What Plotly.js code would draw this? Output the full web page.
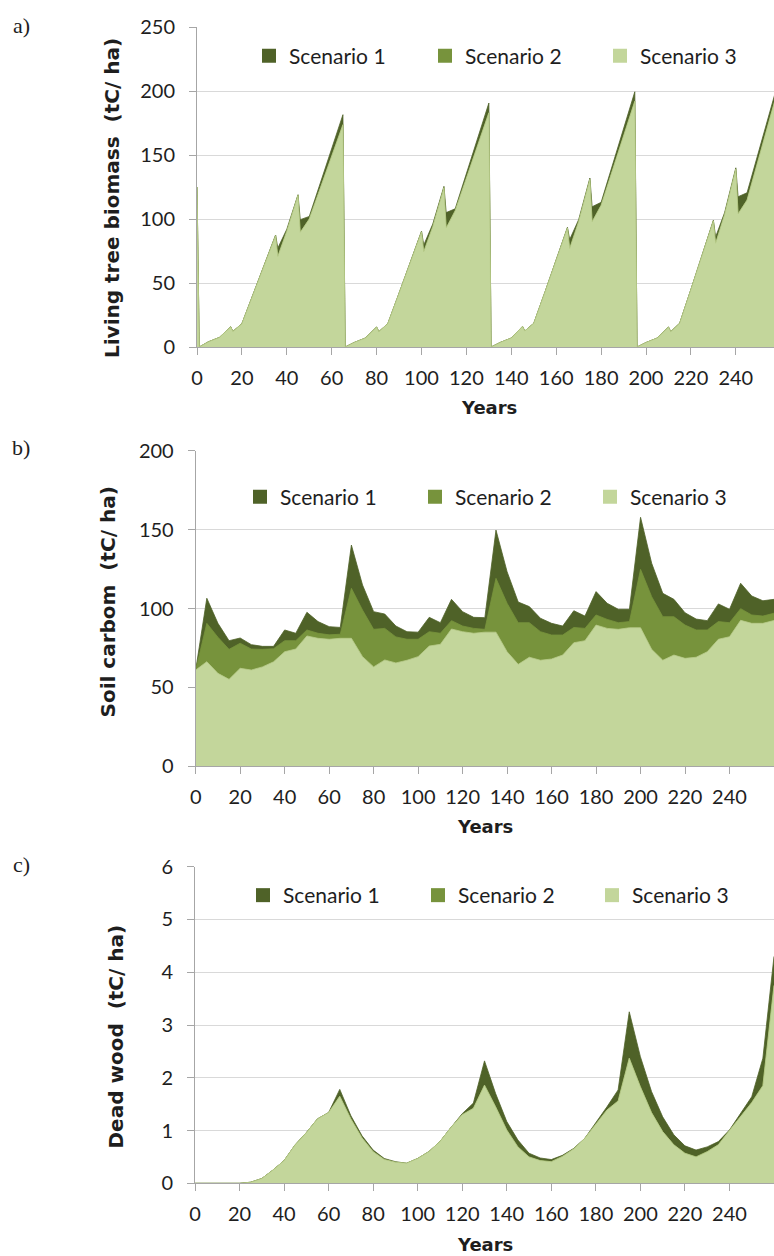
<!DOCTYPE html>
<html>
<head>
<meta charset="utf-8">
<script src="https://cdn.plot.ly/plotly-3.0.1.min.js"></script>
<style>
  html, body { margin: 0; padding: 0; background: #ffffff; }
  #chart { width: 774px; height: 1256px; }
</style>
</head>
<body>
<div id="chart"></div>
<script>
// ---- Series names and colours ----
const scenarioNames = ['Scenario 1', 'Scenario 2', 'Scenario 3'];
const scenarioColors = ['#4F6228', '#77933C', '#C3D69B'];

// ---- a) Living tree biomass (tC/ha) ----
const biomassYears = [0, 1, 5, 10, 15, 16, 20, 25, 30, 35, 36, 40, 45, 46, 50, 55, 60, 65,
  66, 70, 75, 80, 81, 85, 90, 95, 100, 101, 105, 110, 111, 115, 120, 125, 130,
  131, 135, 140, 145, 146, 150, 155, 160, 165, 166, 170, 175, 176, 180, 185, 190, 195,
  196, 200, 205, 210, 211, 215, 220, 225, 230, 231, 235, 240, 241, 245, 250, 255, 260];
const biomassS1 = [125, 0, 4, 7.5, 15.8, 12.2, 18.2, 41, 64, 87.5, 77.3, 92, 119, 99.5, 102, 128.5, 155, 181.5,
  0, 3.5, 7, 15.6, 12, 18.3, 42, 66, 90.5, 79.7, 96, 125.5, 105, 108, 135.5, 163, 190.6,
  0, 3.5, 7, 16.1, 12.5, 18.5, 43, 68, 93.5, 84, 99.5, 132, 109.6, 113, 141.8, 170.6, 199.4,
  0, 3.5, 7, 15.6, 12, 18.6, 45, 72, 99, 86, 105, 140, 117.4, 120.5, 151.8, 183, 214];
const biomassS2 = [125, 0, 4, 7.5, 15.8, 12.2, 18.2, 41, 64, 87, 70.8, 90.5, 118.5, 89.6, 100, 124.6, 149, 173.7,
  0, 3.5, 7, 15.6, 12, 18.3, 42, 66, 90, 74.5, 94, 124.5, 93, 106.5, 132, 157.5, 183,
  0, 3.5, 7, 16.1, 12.5, 18.5, 43, 68, 93, 77, 98, 131, 97.9, 110.7, 138.1, 165.5, 192,
  0, 3.5, 7, 15.6, 12, 18.6, 45, 72, 98.5, 81, 103.5, 139, 104, 114.8, 146.2, 177.6, 209];
const biomassS3 = [125, 0, 4, 7.5, 15.8, 12.2, 18.2, 41, 64, 87, 70.8, 90.5, 118.5, 89.6, 100, 124.6, 149, 173.7,
  0, 3.5, 7, 15.6, 12, 18.3, 42, 66, 90, 74.5, 94, 124.5, 93, 106.5, 132, 157.5, 183,
  0, 3.5, 7, 16.1, 12.5, 18.5, 43, 68, 93, 77, 98, 131, 97.9, 110.7, 138.1, 165.5, 192,
  0, 3.5, 7, 15.6, 12, 18.6, 45, 72, 98.5, 81, 103.5, 139, 104, 114.8, 146.2, 177.6, 209];

// ---- b) Soil carbon (tC/ha), 5-year steps ----
const soilYears = [0, 5, 10, 15, 20, 25, 30, 35, 40, 45, 50, 55, 60, 65, 70, 75, 80, 85, 90, 95,
  100, 105, 110, 115, 120, 125, 130, 135, 140, 145, 150, 155, 160, 165, 170, 175, 180, 185, 190, 195,
  200, 205, 210, 215, 220, 225, 230, 235, 240, 245, 250, 255, 260];
const soilS1 = [61, 106.5, 90.6, 79.6, 81.3, 77.1, 76, 76, 86.4, 84.3, 97.6, 91.7, 88.5, 88, 140.2, 114.9, 98, 96.5, 88.9, 85.3,
  85, 94.4, 91, 105.8, 98, 94.4, 94.2, 149.7, 123.3, 104.1, 101.2, 93.8, 90.6, 88.9, 98.6, 95.2, 110.7, 103.3, 99.5, 99.5,
  157.8, 128.7, 109.6, 105.8, 97.3, 93.3, 92.3, 102.9, 99.5, 116, 107.9, 104.9, 105.8];
const soilS2 = [61, 90.6, 81.8, 74.1, 78, 74.3, 74.1, 74.5, 79.6, 79.6, 86.4, 84.3, 83.3, 83.7, 112.8, 99, 86.8, 87.4, 82, 80.5,
  80.5, 85.3, 84.3, 92.3, 88.9, 87.4, 86.8, 119.1, 103.3, 91, 91, 85.3, 83.2, 83.2, 88, 87.4, 95.9, 93.1, 91, 91.7,
  124.8, 107.5, 94.8, 94.8, 89.5, 86.4, 86.4, 91.7, 91, 99.9, 95.9, 95.2, 97];
const soilS3 = [61, 66.3, 58.9, 55.1, 62.1, 61, 63, 66.2, 72.6, 74.3, 82.6, 81.1, 80.5, 81.1, 81.1, 69.5, 63, 67.4, 65.5, 67.2,
  69.5, 76.2, 77.3, 87, 85.3, 84.3, 85, 85, 72.6, 64.6, 69.1, 67.2, 68, 70.5, 78.3, 79.6, 89.5, 87.4, 86.8, 87.8,
  87.8, 74.1, 67.2, 70.5, 68.4, 69.1, 72.6, 80.5, 82.1, 92.5, 90.6, 90.6, 92.4];

// ---- c) Dead wood (tC/ha), 5-year steps ----
const deadYears = soilYears;
const deadS1 = [0, 0, 0, 0, 0, 0.02, 0.09, 0.25, 0.43, 0.73, 0.96, 1.22, 1.34, 1.78, 1.28, 0.9, 0.63, 0.47, 0.41, 0.38,
  0.47, 0.6, 0.79, 1.06, 1.32, 1.52, 2.32, 1.70, 1.17, 0.82, 0.57, 0.48, 0.45, 0.53, 0.66, 0.85, 1.14, 1.45, 1.77, 3.25,
  2.4, 1.74, 1.26, 0.92, 0.71, 0.63, 0.69, 0.79, 1.01, 1.33, 1.64, 2.37, 4.3];
const deadS2 = [0, 0, 0, 0, 0, 0.02, 0.09, 0.25, 0.43, 0.73, 0.96, 1.22, 1.34, 1.65, 1.22, 0.86, 0.6, 0.45, 0.4, 0.38,
  0.47, 0.6, 0.79, 1.06, 1.3, 1.42, 1.86, 1.45, 1.01, 0.69, 0.5, 0.43, 0.41, 0.51, 0.65, 0.85, 1.12, 1.39, 1.56, 2.37,
  1.83, 1.34, 0.98, 0.73, 0.57, 0.5, 0.6, 0.73, 1.0, 1.26, 1.53, 1.85, 3.75];
const deadS3 = [0, 0, 0, 0, 0, 0.02, 0.09, 0.25, 0.43, 0.73, 0.96, 1.22, 1.34, 1.65, 1.22, 0.86, 0.6, 0.45, 0.4, 0.38,
  0.47, 0.6, 0.79, 1.06, 1.3, 1.42, 1.86, 1.45, 1.01, 0.69, 0.5, 0.43, 0.41, 0.51, 0.65, 0.85, 1.12, 1.39, 1.56, 2.37,
  1.83, 1.34, 0.98, 0.73, 0.57, 0.5, 0.6, 0.73, 1.0, 1.26, 1.53, 1.85, 3.75];

// ---- Panel titles and axis labels ----
const panelLetters = ['a)', 'b)', 'c)'];
const yTitles = ['Living tree biomass\u00a0\u00a0(tC/ ha)', 'Soil carbom\u00a0\u00a0(tC/ ha)', 'Dead wood\u00a0\u00a0(tC/ ha)'];
const xTitle = 'Years';

// ---- Figure geometry (pixels on a 774 x 1256 page) ----
const W = 774, H = 1256;
const px = v => v / W;
const py = v => 1 - v / H;

const textColor = '#1e1e1e';
const uiFont = 'Lato, "Open Sans", sans-serif';
const boldFont = '"DejaVu Sans", Verdana, sans-serif';

const panels = [
  { years: biomassYears, series: [biomassS1, biomassS2, biomassS3], ax: '', xL: 197, yTop: 27, yBot: 347, xMax: 257, yMax: 250, dy: 50,
    letterY: 25, titleX: 112, titleY: 198, yearsX: 489, yearsY: 408, legendY: 56, swatchX: [264, 440, 615] },
  { years: soilYears, series: [soilS1, soilS2, soilS3], ax: '2', xL: 195.7, yTop: 450.7, yBot: 766.3, xMax: 260, yMax: 200, dy: 50,
    letterY: 447, titleX: 107.5, titleY: 602, yearsX: 485, yearsY: 826, legendY: 497, swatchX: [255, 430, 605] },
  { years: deadYears, series: [deadS1, deadS2, deadS3], ax: '3', xL: 195, yTop: 866.7, yBot: 1183.3, xMax: 260, yMax: 6, dy: 1,
    letterY: 864, titleX: 115.5, titleY: 1036, yearsX: 485, yearsY: 1244, legendY: 895.5, swatchX: [258, 433, 607] }
];

const traces = [];
const layout = {
  width: W, height: H,
  margin: { l: 0, r: 0, t: 0, b: 0 },
  paper_bgcolor: '#ffffff', plot_bgcolor: '#ffffff',
  showlegend: true,
  font: { family: uiFont, color: textColor, size: 20 },
  annotations: []
};

let legendCount = 0;
panels.forEach((p, i) => {
  const xa = 'x' + p.ax, ya = 'y' + p.ax;

  // Overlapping areas: Scenario 1 at the back, Scenario 3 in front
  p.series.forEach((vals, k) => {
    traces.push({
      type: 'scatter', mode: 'lines', x: p.years, y: vals,
      xaxis: xa, yaxis: ya, name: scenarioNames[k],
      fill: 'tozeroy', fillcolor: scenarioColors[k],
      line: { color: k === 2 ? '#B9CC8C' : scenarioColors[k], width: 0.8 },
      showlegend: false, hoverinfo: 'x+y+name'
    });
  });

  // One legend box per entry, so each swatch sits where the panel needs it
  scenarioNames.forEach((nm, k) => {
    legendCount += 1;
    const legendId = legendCount === 1 ? 'legend' : 'legend' + legendCount;
    traces.push({
      type: 'scatter', mode: 'markers', x: [null], y: [null],
      xaxis: xa, yaxis: ya, name: nm, legend: legendId,
      marker: { symbol: 'square', size: 14, color: scenarioColors[k] },
      showlegend: true, hoverinfo: 'skip'
    });
    layout[legendId] = {
      orientation: 'h', x: px(p.swatchX[k] - 15), xanchor: 'left', y: py(p.legendY), yanchor: 'middle',
      bgcolor: 'rgba(0,0,0,0)', borderwidth: 0,
      font: { family: uiFont, size: 21, color: textColor }, itemclick: false, itemdoubleclick: false
    };
  });

  layout['xaxis' + p.ax] = {
    domain: [px(p.xL), 1], anchor: ya, range: [0, p.xMax],
    tickmode: 'linear', tick0: 0, dtick: 20,
    showgrid: false, zeroline: false,
    showline: true, linecolor: '#a6a6a6', linewidth: 1,
    ticks: 'outside', ticklen: 7, tickcolor: '#a6a6a6', tickwidth: 1,
    ticklabelstandoff: 6,
    tickfont: { family: uiFont, size: 20, color: textColor }
  };
  layout['yaxis' + p.ax] = {
    domain: [py(p.yBot), py(p.yTop)], anchor: xa, range: [0, p.yMax],
    tickmode: 'linear', tick0: 0, dtick: p.dy,
    showgrid: true, gridcolor: '#d9d9d9', gridwidth: 1, zeroline: false,
    showline: true, linecolor: '#a6a6a6', linewidth: 1,
    ticks: 'outside', ticklen: 7, tickcolor: '#a6a6a6', tickwidth: 1,
    ticklabelstandoff: 10,
    tickfont: { family: uiFont, size: 20, color: textColor }
  };

  layout.annotations.push(
    { xref: 'paper', yref: 'paper', x: px(21), y: py(p.letterY), xanchor: 'center', yanchor: 'middle',
      text: panelLetters[i], showarrow: false,
      font: { family: '"Liberation Serif", "Times New Roman", serif', size: 22, color: textColor } },
    { xref: 'paper', yref: 'paper', x: px(p.titleX), y: py(p.titleY), xanchor: 'center', yanchor: 'middle',
      text: '<b>' + yTitles[i] + '</b>', textangle: -90, showarrow: false,
      font: { family: boldFont, size: 20, color: textColor } },
    { xref: 'paper', yref: 'paper', x: px(p.yearsX), y: py(p.yearsY), xanchor: 'center', yanchor: 'middle',
      text: '<b>' + xTitle + '</b>', showarrow: false,
      font: { family: boldFont, size: 18, color: textColor } }
  );
});

Plotly.newPlot('chart', traces, layout, { staticPlot: true, displayModeBar: false });
</script>
</body>
</html>
